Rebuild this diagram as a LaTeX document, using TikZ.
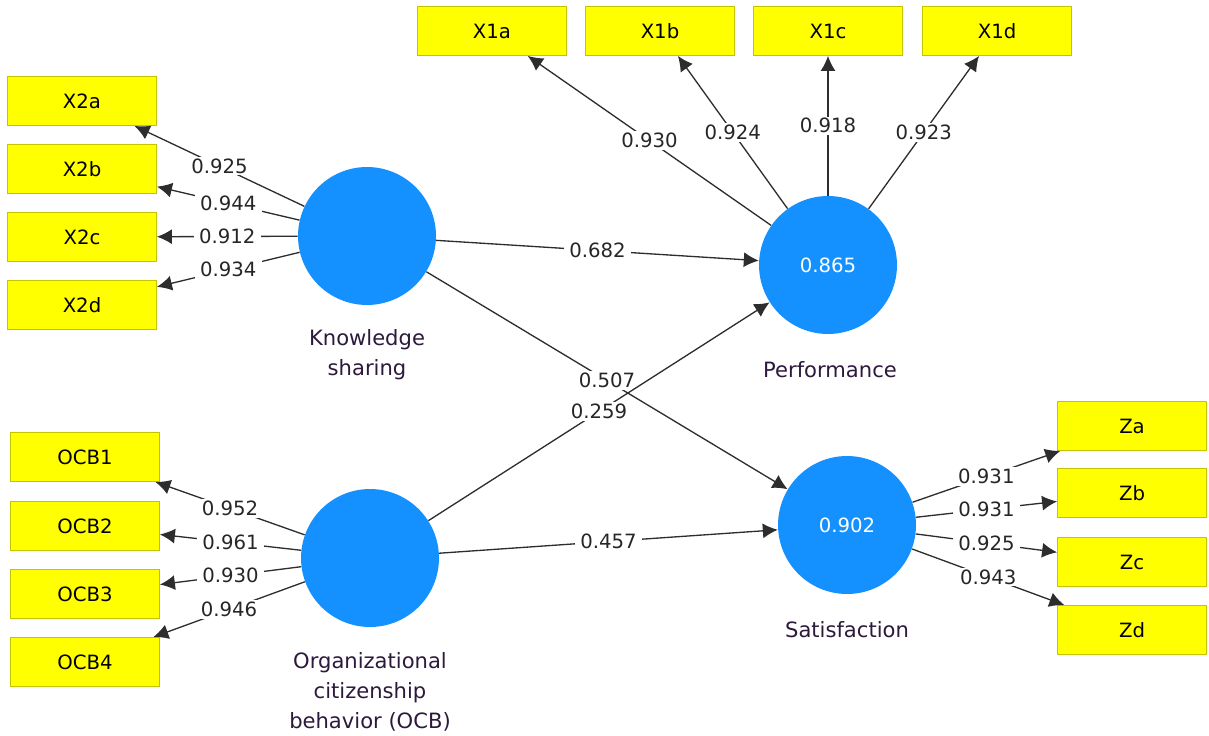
\documentclass[tikz,border=0pt]{standalone}
\usepackage{fontspec}
\setmainfont{DejaVu Sans}
\usetikzlibrary{arrows.meta}
\definecolor{latblue}{RGB}{21,145,255}
\definecolor{indyellow}{RGB}{255,255,0}
\definecolor{indline}{RGB}{196,196,0}
\definecolor{arrgray}{RGB}{45,45,45}
\definecolor{nametext}{RGB}{45,25,60}
\begin{document}
\begin{tikzpicture}[x=0.02cm,y=-0.02cm,
	indbox/.style={draw=indline,fill=indyellow,line width=0.5pt,minimum width=2.98cm,minimum height=0.98cm,inner sep=0pt,font=\fontsize{11.2}{13}\selectfont},
	latvar/.style={circle,fill=latblue,minimum size=2.76cm,inner sep=0pt,text=white,font=\fontsize{11.2}{13}\selectfont},
	varname/.style={align=center,text=nametext,font=\fontsize{12}{17}\selectfont},
	load/.style={draw=arrgray,line width=0.75pt,-{Latex[length=0.3cm,width=0.3cm]}},
	coef/.style={fill=white,inner xsep=3pt,inner ysep=1pt,text=black!85,font=\fontsize{11.2}{13}\selectfont}]
\useasboundingbox (0,0) rectangle (1209,736);
%%% Latent variables
\node[latvar] (KS) at (367,236) {};
\node[latvar] (PERF) at (828,265) {0.865};
\node[latvar] (OCB) at (370,558) {};
\node[latvar] (SAT) at (847,525) {0.902};
%%% Names below the circles
\node[varname] (KSname) at (367,355) {Knowledge\\sharing};
\node[varname] (PERFname) at (830,370) {Performance};
\node[varname] (SATname) at (847,630) {Satisfaction};
\node[varname] (OCBname) at (370,692) {Organizational\\citizenship\\behavior (OCB)};
%%% Indicators of knowledge sharing
\foreach \n/\y/\v in {a/101/0.925,b/169/0.944,c/237/0.912,d/305/0.934}
{
	\node[indbox] (X2\n) at (82,\y) {X2\n};
	\draw[load] (KS) -- node[coef] {\v} (X2\n);
}
%%% Indicators of performance
\foreach \n/\x/\v in {a/492/0.930,b/660/0.924,c/828/0.918,d/997/0.923}
{
	\node[indbox] (X1\n) at (\x,31) {X1\n};
	\draw[load] (PERF) -- node[coef] {\v} (X1\n);
}
%%% Indicators of OCB
\foreach \n/\y/\v in {1/457/0.952,2/526/0.961,3/594/0.930,4/662/0.946}
{
	\node[indbox] (OCB\n) at (85,\y) {OCB\n};
	\draw[load] (OCB) -- node[coef] {\v} (OCB\n);
}
%%% Indicators of satisfaction
\foreach \n/\y/\v in {a/426/0.931,b/493/0.931,c/562/0.925,d/630/0.943}
{
	\node[indbox] (Z\n) at (1132,\y) {Z\n};
	\draw[load] (SAT) -- node[coef] {\v} (Z\n);
}
%%% Inner model
\draw[load] (KS) -- node[coef] {0.682} (PERF);
\draw[load] (KS) -- node[coef] {0.507} (SAT);
\draw[load] (OCB) -- node[coef] {0.259} (PERF);
\draw[load] (OCB) -- node[coef] {0.457} (SAT);
\end{tikzpicture}
\end{document}
